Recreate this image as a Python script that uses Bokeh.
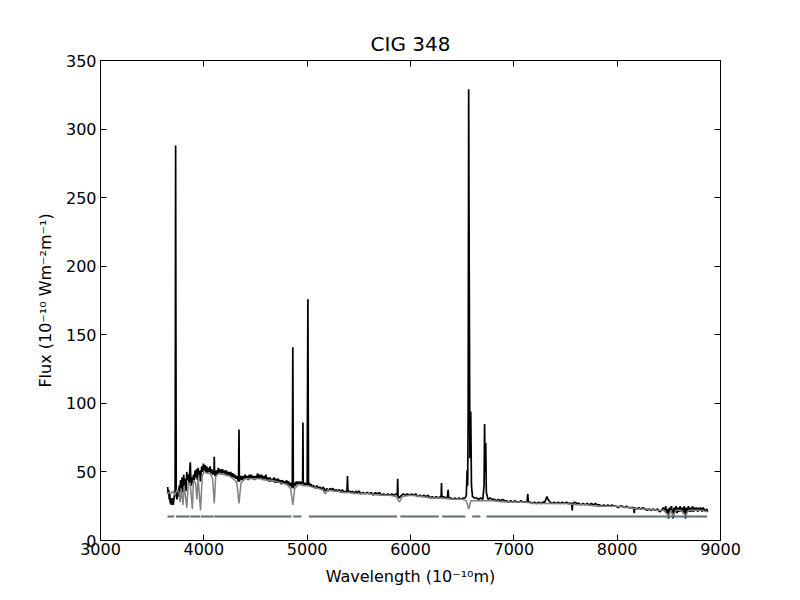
from bokeh.plotting import figure
from bokeh.models import LinearAxis, FixedTicker, Range1d
from bokeh.embed import file_html
from bokeh.resources import INLINE

# ---------------- data ----------------
obs_wl = [3650, 3655, 3660, 3665, 3670, 3675, 3680, 3685, 3690, 3695, 3700, 3705, 3710, 3716, 3722, 3724,
          3727, 3730, 3733, 3740, 3748, 3755, 3762, 3768, 3775, 3782, 3790, 3797, 3805, 3812, 3820, 3828,
          3835, 3842, 3850, 3858, 3864, 3869, 3874, 3880, 3887, 3894, 3900, 3908, 3915, 3922, 3930, 3938,
          3945, 3952, 3960, 3967, 3974, 3980, 3988, 3997, 4004, 4012, 4020, 4028, 4036, 4044, 4052, 4060,
          4068, 4076, 4084, 4092, 4098, 4101, 4104, 4112, 4120, 4130, 4140, 4150, 4160, 4170, 4180, 4190,
          4200, 4210, 4220, 4230, 4240, 4250, 4260, 4270, 4280, 4290, 4300, 4310, 4320, 4330, 4336, 4340,
          4344, 4352, 4360, 4370, 4380, 4390, 4400, 4410, 4420, 4430, 4440, 4450, 4460, 4470, 4480, 4490,
          4500, 4510, 4520, 4530, 4540, 4550, 4560, 4570, 4580, 4590, 4600, 4610, 4620, 4630, 4640, 4650,
          4660, 4670, 4680, 4690, 4700, 4710, 4720, 4730, 4740, 4750, 4760, 4770, 4780, 4790, 4800, 4810,
          4820, 4830, 4840, 4850, 4856, 4861, 4866, 4875, 4885, 4895, 4905, 4915, 4925, 4935, 4945, 4956,
          4959, 4962, 4970, 4980, 4990, 5000, 5007, 5013, 5020, 5030, 5040, 5050, 5065, 5080, 5095, 5110,
          5125, 5140, 5155, 5175, 5190, 5205, 5220, 5235, 5250, 5265, 5280, 5295, 5310, 5325, 5340, 5355,
          5370, 5385, 5390, 5395, 5410, 5425, 5440, 5455, 5470, 5485, 5500, 5520, 5540, 5560, 5580, 5600,
          5620, 5640, 5660, 5680, 5700, 5720, 5740, 5760, 5780, 5800, 5820, 5840, 5860, 5872, 5876, 5880,
          5890, 5900, 5915, 5930, 5950, 5970, 5990, 6010, 6030, 6050, 6070, 6090, 6110, 6130, 6150, 6170,
          6190, 6210, 6230, 6250, 6270, 6290, 6296, 6300, 6304, 6320, 6340, 6358, 6364, 6370, 6390, 6410,
          6430, 6450, 6470, 6490, 6510, 6530, 6540, 6548, 6553, 6558, 6563, 6568, 6575, 6583, 6590, 6600,
          6620, 6640, 6660, 6680, 6700, 6712, 6717, 6722, 6728, 6734, 6750, 6770, 6790, 6810, 6830, 6850,
          6870, 6890, 6910, 6930, 6950, 6970, 6990, 7010, 7030, 7050, 7070, 7090, 7110, 7128, 7135, 7140,
          7160, 7180, 7200, 7220, 7240, 7260, 7280, 7300, 7310, 7320, 7330, 7350, 7370, 7390, 7410, 7430,
          7450, 7470, 7490, 7510, 7530, 7550, 7560, 7565, 7570, 7590, 7610, 7630, 7650, 7670, 7690, 7710,
          7730, 7750, 7770, 7790, 7810, 7830, 7850, 7870, 7890, 7910, 7930, 7950, 7970, 7990, 8010, 8030,
          8050, 8070, 8090, 8110, 8130, 8150, 8160, 8165, 8170, 8190, 8210, 8230, 8250, 8270, 8290, 8310,
          8330, 8350, 8370, 8390, 8410, 8430, 8445, 8460, 8470, 8480, 8490, 8498, 8505, 8515, 8525, 8535,
          8542, 8550, 8560, 8570, 8580, 8590, 8600, 8610, 8620, 8630, 8640, 8650, 8662, 8670, 8680, 8690,
          8700, 8710, 8720, 8730, 8740, 8750, 8760, 8770, 8780, 8790, 8800, 8810, 8820, 8830, 8840, 8850,
          8860, 8868, 8875]
obs_flux = [39, 34, 37, 30, 35, 27, 31, 26, 30, 27, 31, 26, 30, 33, 34, 120,
            288, 150, 33, 30, 36, 32, 40, 34, 44, 36, 46, 35, 48, 40, 45, 36,
            50, 44, 48, 42, 52, 57, 45, 40, 46, 42, 48, 44, 51, 46, 52, 44,
            53, 48, 51, 43, 50, 54, 50, 56, 51, 55, 50, 54, 49, 53, 50, 54,
            49, 52, 48, 51, 49, 61, 48, 47, 51, 48, 53, 49, 52, 48, 52, 49,
            51, 48, 51, 47, 50, 47, 50, 46, 49, 46, 48, 45, 47, 44, 43, 81,
            43, 45, 47, 44, 47, 45, 48, 45, 47, 44, 48, 45, 48, 45, 47, 44,
            47, 45, 49, 45, 48, 45, 48, 44, 47, 45, 48, 44, 46, 43, 46, 43,
            45, 43, 46, 42, 45, 42, 45, 42, 44, 41, 44, 42, 43, 41, 44, 41,
            43, 40, 42, 39, 39, 141, 38, 42, 40, 43, 41, 43, 41, 43, 41, 42,
            86, 41, 42, 40, 42, 40, 176, 40, 42, 40, 41, 39, 40, 38, 40, 38,
            39, 37, 39, 36, 38, 36, 38, 37, 38, 36, 37, 36, 37, 35, 37, 35,
            36, 35, 47, 35, 36, 35, 36, 34, 36, 35, 36, 34, 35, 34, 35, 34,
            35, 33, 35, 34, 35, 33, 34, 33, 34, 33, 34, 33, 34, 33, 45, 32,
            31, 32, 33, 34, 33, 34, 33, 34, 33, 34, 32, 33, 32, 33, 32, 33,
            31, 32, 31, 32, 31, 32, 31, 42, 31, 32, 31, 32, 37, 31, 31, 30,
            31, 30, 31, 30, 31, 31, 33, 51, 40, 90, 329, 200, 60, 94, 40, 32,
            31, 31, 30, 31, 30, 40, 85, 50, 71, 35, 30, 31, 30, 30, 29, 30,
            29, 30, 29, 29, 28, 29, 28, 29, 28, 28, 29, 28, 28, 28, 34, 28,
            28, 27, 28, 27, 28, 27, 28, 28, 30, 32, 30, 28, 27, 28, 27, 28,
            27, 28, 27, 28, 27, 27, 27, 22, 27, 28, 27, 27, 26, 27, 26, 27,
            26, 27, 26, 27, 26, 26, 25, 26, 25, 26, 25, 26, 25, 25, 24, 25,
            25, 24, 25, 24, 24, 24, 24, 20, 24, 23, 24, 23, 24, 23, 22, 23,
            22, 23, 22, 23, 21, 22, 24, 22, 25, 20, 23, 16, 24, 21, 25, 20,
            16, 24, 21, 25, 20, 24, 21, 25, 21, 24, 20, 25, 16, 24, 21, 25,
            21, 24, 21, 25, 21, 24, 22, 24, 21, 24, 22, 24, 21, 24, 23, 22,
            22, 23, 21]

model_wl = [3650, 3680, 3700, 3720, 3740, 3760, 3770, 3780, 3798, 3810, 3835, 3850, 3870, 3889, 3900, 3920,
            3933, 3945, 3968, 3985, 4000, 4030, 4060, 4085, 4101, 4115, 4150, 4200, 4250, 4300, 4320, 4340,
            4360, 4400, 4450, 4500, 4550, 4600, 4650, 4700, 4750, 4800, 4840, 4861, 4880, 4920, 4960, 5000,
            5050, 5100, 5150, 5175, 5200, 5250, 5300, 5350, 5400, 5500, 5600, 5700, 5800, 5860, 5893, 5920,
            6000, 6100, 6200, 6300, 6400, 6500, 6540, 6563, 6585, 6700, 6800, 6900, 7000, 7100, 7200, 7300,
            7400, 7500, 7600, 7700, 7800, 7900, 8000, 8100, 8200, 8300, 8400, 8450, 8498, 8520, 8542, 8570,
            8620, 8662, 8690, 8750, 8800, 8875]
model_flux = [35, 34, 36, 33, 37, 35, 28, 38, 26, 40, 24, 42, 40, 23, 44, 42,
              30, 45, 22, 47, 50, 49, 49, 45, 27, 47, 49, 48, 47, 44, 42, 27,
              42, 45, 45, 45, 45, 44, 44, 43, 42, 41, 38, 26, 38, 41, 40, 40,
              39, 38, 37, 34, 37, 36, 36, 35, 35, 34, 34, 33, 33, 32, 28, 32,
              33, 32, 31, 31, 30, 30, 29, 23, 29, 29, 29, 28, 28, 28, 27, 27,
              27, 27, 26, 26, 25, 25, 25, 24, 23, 23, 22, 22, 18, 22, 18, 22,
              22, 18, 22, 22, 22, 21]

mask_start = [3648, 3729, 3868, 3971, 4100, 4865, 5016, 5902, 6306, 6597, 6735]
mask_end = [3713, 3862, 3965, 4094, 4848, 4945, 5870, 6274, 6532, 6677, 8871]
mask_level = 17.5

x_ticks = [3000, 4000, 5000, 6000, 7000, 8000, 9000]
y_ticks = [0, 50, 100, 150, 200, 250, 300, 350]

# ---------------- figure ----------------
FONT = "DejaVu Sans"
p = figure(width=800, height=600, output_backend="svg", toolbar_location=None,
           x_range=Range1d(3000, 9000), y_range=Range1d(0, 350),
           min_border_left=100, min_border_right=80, min_border_top=60, min_border_bottom=60,
           title="CIG 348")
p.title.text_font = FONT
p.title.text_font_size = "20px"
p.title.text_font_style = "normal"
p.title.align = "center"
p.title.text_color = "black"

p.grid.visible = False
p.background_fill_color = "white"
p.border_fill_color = "white"
p.outline_line_color = "black"
p.outline_line_width = 1

p.xaxis.axis_label = "Wavelength (10\u207b\u00b9\u2070m)"
p.yaxis.axis_label = "Flux (10\u207b\u00b9\u2070 Wm\u207b\u00b2m\u207b\u00b9)"

for ax in p.xaxis:
    ax.ticker = FixedTicker(ticks=x_ticks)
for ax in p.yaxis:
    ax.ticker = FixedTicker(ticks=y_ticks)
for ax in list(p.xaxis) + list(p.yaxis):
    ax.major_tick_in = 6
    ax.major_tick_out = 0
    ax.minor_tick_line_color = None
    ax.axis_line_color = "black"
    ax.major_tick_line_color = "black"
    ax.major_label_text_font = FONT
    ax.major_label_text_font_size = "16px"
    ax.major_label_text_color = "black"
    ax.axis_label_text_font = FONT
    ax.axis_label_text_font_size = "16px"
    ax.axis_label_text_font_style = "normal"
    ax.axis_label_text_color = "black"
p.xaxis.major_label_standoff = 2
p.yaxis.major_label_standoff = 4
p.xaxis.axis_label_standoff = 9
p.yaxis.axis_label_standoff = 8

top = LinearAxis(ticker=FixedTicker(ticks=x_ticks), major_tick_in=6, major_tick_out=0,
                 minor_tick_line_color=None, major_label_text_font_size="2px",
                 major_label_text_color=None, major_label_standoff=0,
                 axis_line_color="black")
right = LinearAxis(ticker=FixedTicker(ticks=y_ticks), major_tick_in=6, major_tick_out=0,
                   minor_tick_line_color=None, major_label_text_font_size="2px",
                   major_label_text_color=None, major_label_standoff=0,
                   axis_line_color="black")
p.add_layout(top, "above")
p.add_layout(right, "right")

# ---------------- glyphs ----------------
p.line(obs_wl, obs_flux, line_color="black", line_width=1.7)
p.line(model_wl, model_flux, line_color="#808080", line_width=1.5)
p.segment(x0=mask_start, y0=[mask_level] * len(mask_start), x1=mask_end,
          y1=[mask_level] * len(mask_end), line_color="#5f6e78", line_width=2)

open("out.html", "w").write(file_html(p, INLINE))
